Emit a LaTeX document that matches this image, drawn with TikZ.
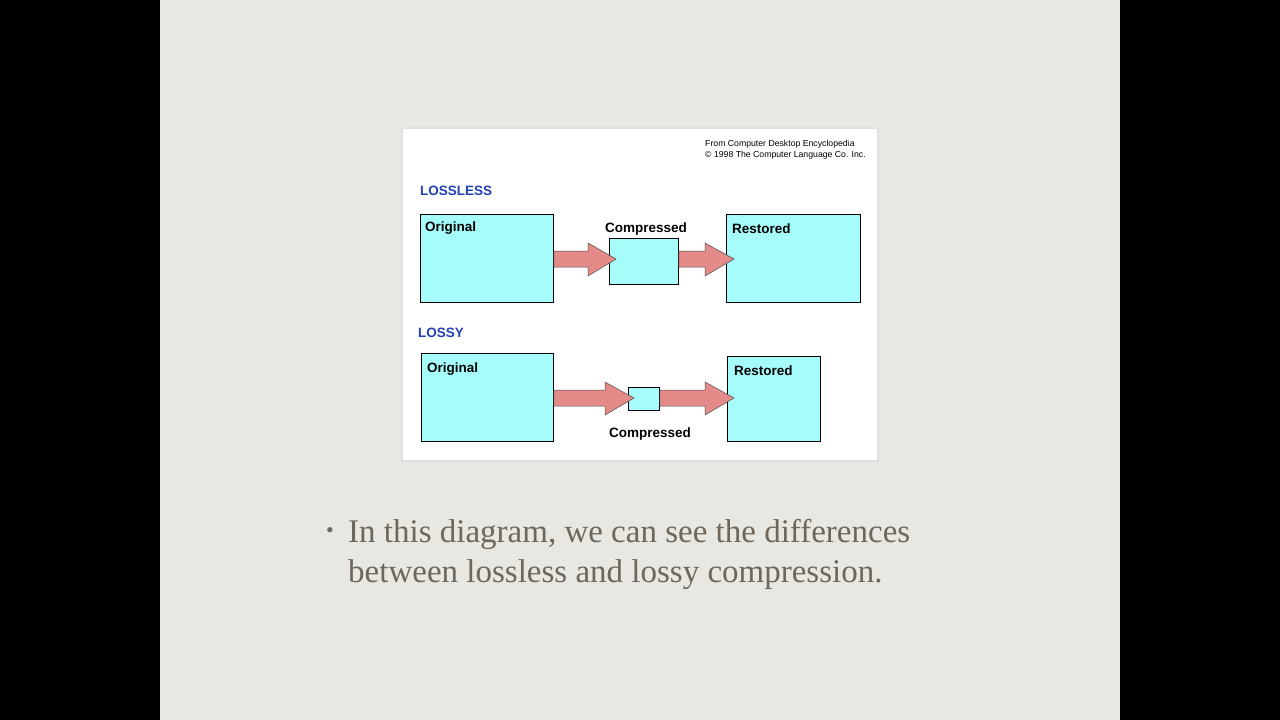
\documentclass[tikz,border=0pt]{standalone}
\usepackage{fontspec}
\setmainfont{Liberation Serif}
\newfontfamily\arial{Liberation Sans}
\usetikzlibrary{calc}
\definecolor{slide}{HTML}{E8E7E1}
\definecolor{cyanbox}{HTML}{A6FBFB}
\definecolor{pinkarr}{HTML}{E48A88}
\definecolor{titleblue}{HTML}{2340B4}
\definecolor{bodytxt}{HTML}{6E675E}
\tikzset{
  box/.style={draw=black,fill=cyanbox,line width=0.8pt,anchor=north west,inner sep=0pt},
  lbl/.style={font=\arial\bfseries\fontsize{13.5}{15}\selectfont,inner sep=0pt},
  ttl/.style={font=\arial\bfseries\fontsize{13.5}{15}\selectfont,text=titleblue,anchor=west,inner sep=0pt},
  arr/.style={draw=black!70,fill=pinkarr,line width=0.5pt},
  bodyline/.style={text=bodytxt,font=\fontsize{33}{40}\selectfont,anchor=base west,inner sep=0pt},
}
\begin{document}
\begin{tikzpicture}[x=1pt,y=-1pt]
\useasboundingbox (0,0) rectangle (1280,720);
\fill[black] (0,0) rectangle (1280,720);
\fill[slide] (160,0) rectangle (1120,720);
\draw[black!8,line width=1pt] (190,15) rectangle (1105,705);
\draw[black!12,fill=white,line width=1.2pt] (402,128) rectangle (878,461);
\node[font=\arial\fontsize{8.7}{11}\selectfont,align=left,anchor=north west,inner sep=0pt] (cred) at (705,140) {From Computer Desktop Encyclopedia\\\textcopyright{} 1998 The Computer Language Co. Inc.};
\node[ttl] (t1) at (420,191) {LOSSLESS};
\node[ttl] (t2) at (418,333) {LOSSY};
% lossless
\node[box,minimum width=133pt,minimum height=88pt] (o1) at (420,214) {};
\node[box,minimum width=69pt,minimum height=46pt] (c1) at (609,238) {};
\node[box,minimum width=134pt,minimum height=88pt] (r1) at (726,214) {};
\node[lbl,anchor=west] at (425,228) {Original};
\node[lbl] at (646,229) {Compressed};
\node[lbl,anchor=west] at (732,229) {Restored};
\draw[arr] (o1.east|-0,251) -- (588,251) -- (588,243) -- (616,259) -- (588,276) -- (588,267) -- (o1.east|-0,267) -- cycle;
\draw[arr] (c1.east|-0,251) -- (705,251) -- (705,243) -- (734,259) -- (705,276) -- (705,267) -- (c1.east|-0,267) -- cycle;
% lossy
\node[box,minimum width=132pt,minimum height=88pt] (o2) at (421,353) {};
\node[box,minimum width=31pt,minimum height=23pt] (c2) at (628,387) {};
\node[box,minimum width=93pt,minimum height=85pt] (r2) at (727,356) {};
\node[lbl,anchor=west] at (427,369) {Original};
\node[lbl] at (650,434) {Compressed};
\node[lbl,anchor=west] at (734,371) {Restored};
\draw[arr] (o2.east|-0,390) -- (605,390) -- (605,382) -- (634,398) -- (605,415) -- (605,406) -- (o2.east|-0,406) -- cycle;
\draw[arr] (c2.east|-0,390) -- (705,390) -- (705,382) -- (734,398) -- (705,415) -- (705,406) -- (c2.east|-0,406) -- cycle;
% bullet text
\node[bodyline] (body1) at (348,542) {In this diagram, we can see the differences};
\node[bodyline] (body2) at (348,582) {between lossless and lossy compression.};
\node[text=bodytxt,font=\fontsize{22}{24}\selectfont,inner sep=0pt] (bul) at (330,533) {\textbullet};
\end{tikzpicture}
\end{document}
